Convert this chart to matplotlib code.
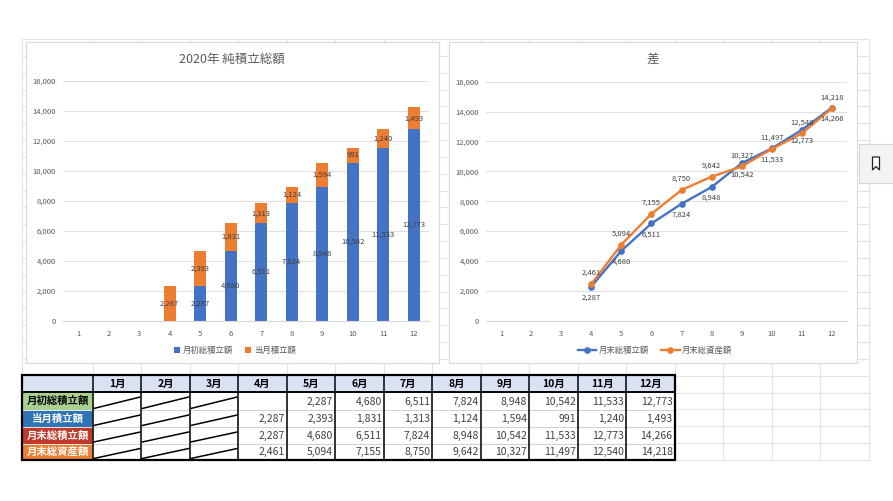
import matplotlib.pyplot as plt
from matplotlib.patches import Rectangle, Polygon
import numpy as np

plt.rcParams['font.family'] = ['Noto Sans CJK JP', 'DejaVu Sans']

# data read from the sheet
months = list(range(1, 13))
month_labels = [f'{m}月' for m in months]
start_total = [None, None, None, None, 2287, 4680, 6511, 7824, 8948, 10542, 11533, 12773]  # 月初総積立額
month_add = [None, None, None, 2287, 2393, 1831, 1313, 1124, 1594, 991, 1240, 1493]        # 当月積立額
end_total = [None, None, None, 2287, 4680, 6511, 7824, 8948, 10542, 11533, 12773, 14266]   # 月末総積立額
end_asset = [None, None, None, 2461, 5094, 7155, 8750, 9642, 10327, 11497, 12540, 14218]   # 月末総資産額

row_names = ['月初総積立額', '当月積立額', '月末総積立額', '月末総資産額']
row_colors = ['#a9d08e', '#2f75b5', '#c0392b', '#ed7d31']
row_text = ['black', 'white', 'white', 'white']

BLUE = '#4472c4'
ORANGE = '#ed7d31'
GRAY = '#595959'
W, H = 893, 501


def fig_rect(x0, y0, x1, y1):
    # pixel box (top-left origin) -> figure fraction
    return [x0 / W, 1 - y1 / H, (x1 - x0) / W, (y1 - y0) / H]


def fmt(v):
    return '' if v is None else f'{v:,}'


fig = plt.figure(figsize=(W / 100, H / 100), dpi=100)

# background sheet, drawn in pixel coordinates
bg = fig.add_axes([0, 0, 1, 1])
bg.set_xlim(0, W)
bg.set_ylim(H, 0)
bg.axis('off')

col_x = [22.3, 92.7] + [92.7 + 48.5 * k for k in range(1, 17)]
row_y = [39 + 16.84 * k for k in range(26)]
for x in col_x:
    bg.plot([x, x], [row_y[0], row_y[-1]], color='#e3e3e3', lw=0.8, zorder=1)
for y in row_y:
    bg.plot([col_x[0], col_x[-1]], [y, y], color='#e3e3e3', lw=0.8, zorder=1)

# chart frames
for x0, x1 in [(26, 439), (449, 857)]:
    bg.add_patch(Rectangle((x0, 41.5), x1 - x0, 363 - 41.5, facecolor='white',
                           edgecolor='#d9d9d9', lw=0.8, zorder=2))

# side bookmark button
bg.add_patch(Rectangle((859, 144), 40, 39, facecolor='#f3f3f3', edgecolor='#d4d4d4', lw=0.8, zorder=2))
bg.add_patch(Polygon([(872.5, 157), (879.5, 157), (879.5, 170), (876, 166.5), (872.5, 170)],
                     closed=True, facecolor='white', edgecolor='#222222', lw=0.9, zorder=3))

# ---- table ----
tx = [22.3, 92.7] + [92.7 + 48.5 * k for k in range(1, 13)]
ty = [375, 392, 410, 427, 443.5, 460]
table_rows = [start_total, month_add, end_total, end_asset]

bg.add_patch(Rectangle((tx[0], ty[0]), tx[-1] - tx[0], ty[1] - ty[0], facecolor='#d9e1f2',
                       edgecolor='none', zorder=3))
bg.add_patch(Rectangle((tx[1], ty[1]), tx[-1] - tx[1], ty[-1] - ty[1], facecolor='white',
                       edgecolor='none', zorder=3))
for i, lab in enumerate(month_labels):
    bg.text((tx[i + 1] + tx[i + 2]) / 2, (ty[0] + ty[1]) / 2, lab, ha='center', va='center',
            fontsize=7.5, fontweight='bold', color='black', zorder=5)

for r, (name, vals) in enumerate(zip(row_names, table_rows)):
    y0, y1 = ty[r + 1], ty[r + 2]
    bg.add_patch(Rectangle((tx[0], y0), tx[1] - tx[0], y1 - y0, facecolor=row_colors[r],
                           edgecolor='white', lw=0.5, zorder=3))
    bg.text((tx[0] + tx[1]) / 2, (y0 + y1) / 2, name, ha='center', va='center',
            fontsize=7.5, fontweight='bold', color=row_text[r], zorder=5)
    for i, v in enumerate(vals):
        if i < 3:
            bg.plot([tx[i + 1] + 1, tx[i + 2] - 1], [y1 - 1.5, y0 + 5], color='black', lw=1.1, zorder=5)
        else:
            bg.text(tx[i + 2] - 2, (y0 + y1) / 2 + 0.5, fmt(v), ha='right', va='center',
                    fontsize=7.5, color='#404040', zorder=5)
    if r < 3:
        bg.plot([tx[1], tx[-1]], [y1, y1], color='#d0d0d0', lw=0.7, zorder=4)

for x in tx[1:-1]:
    bg.plot([x, x], [ty[0], ty[-1]], color='#222222', lw=1.3, zorder=6)
bg.plot([tx[0], tx[-1]], [ty[1], ty[1]], color='black', lw=1.4, zorder=6)
bg.add_patch(Rectangle((tx[0], ty[0]), tx[-1] - tx[0], ty[-1] - ty[0], facecolor='none',
                       edgecolor='black', lw=1.6, zorder=7))


def style_axes(ax):
    ax.set_xlim(0.5, 12.5)
    ax.set_ylim(0, 16000)
    ax.set_yticks(range(0, 16001, 2000))
    ax.set_yticklabels([f'{v:,}' for v in range(0, 16001, 2000)])
    ax.set_xticks(months)
    ax.set_xticklabels([str(m) for m in months])
    ax.grid(axis='y', color='#e0e0e0', lw=0.8)
    ax.set_axisbelow(True)
    for s in ['top', 'right', 'left']:
        ax.spines[s].set_visible(False)
    ax.spines['bottom'].set_color('#d9d9d9')
    ax.tick_params(length=0, labelsize=5.5, labelcolor=GRAY)
    ax.tick_params(axis='x', pad=7)
    ax.tick_params(axis='y', pad=5)
    ax.set_facecolor('none')


# ---- left: stacked bars ----
ax1 = fig.add_axes(fig_rect(63, 81, 429, 320.7))
style_axes(ax1)
base = np.array([v or 0 for v in start_total])
add = np.array([v or 0 for v in month_add])
b1 = ax1.bar(months, base, width=0.4, color=BLUE, label='月初総積立額')
b2 = ax1.bar(months, add, width=0.4, bottom=base, color=ORANGE, label='当月積立額')
ax1.bar_label(b1, labels=[fmt(v) for v in start_total], label_type='center', fontsize=5.5, color='#404040')
ax1.bar_label(b2, labels=[fmt(v) for v in month_add], label_type='center', fontsize=5.5, color='#404040')
fig.text(232 / W, 1 - 59 / H, '2020年 純積立総額', ha='center', va='center', fontsize=9, color=GRAY)
ax1.legend(loc='center', bbox_to_anchor=(235 / W, 1 - 350 / H), bbox_transform=fig.transFigure,
           ncol=2, frameon=False, fontsize=6, labelcolor=GRAY, handlelength=0.7, handleheight=0.7,
           handletextpad=0.3, columnspacing=1.5)

# ---- right: lines ----
ax2 = fig.add_axes(fig_rect(486, 81.7, 847, 320.7))
style_axes(ax2)
mx = [m for m, v in zip(months, end_total) if v is not None]
ye = [v for v in end_total if v is not None]
ya = [v for v in end_asset if v is not None]
ax2.plot(mx, ye, color=BLUE, lw=1.7, marker='o', markersize=3.8, label='月末総積立額')
ax2.plot(mx, ya, color=ORANGE, lw=1.7, marker='o', markersize=3.8, label='月末総資産額')
for m, a, e in zip(mx, ya, ye):
    ax2.annotate(f'{a:,}', (m, a), xytext=(0, 8), textcoords='offset points', ha='center',
                 va='center', fontsize=5.5, color='#404040')
    ax2.annotate(f'{e:,}', (m, e), xytext=(0, -8), textcoords='offset points', ha='center',
                 va='center', fontsize=5.5, color='#404040')
fig.text(653 / W, 1 - 59 / H, '差', ha='center', va='center', fontsize=9, color=GRAY)
ax2.legend(loc='center', bbox_to_anchor=(655 / W, 1 - 350 / H), bbox_transform=fig.transFigure,
           ncol=2, frameon=False, fontsize=6, labelcolor=GRAY, handlelength=2.2,
           handletextpad=0.3, columnspacing=1.5)

plt.savefig('out.png', dpi=100)
